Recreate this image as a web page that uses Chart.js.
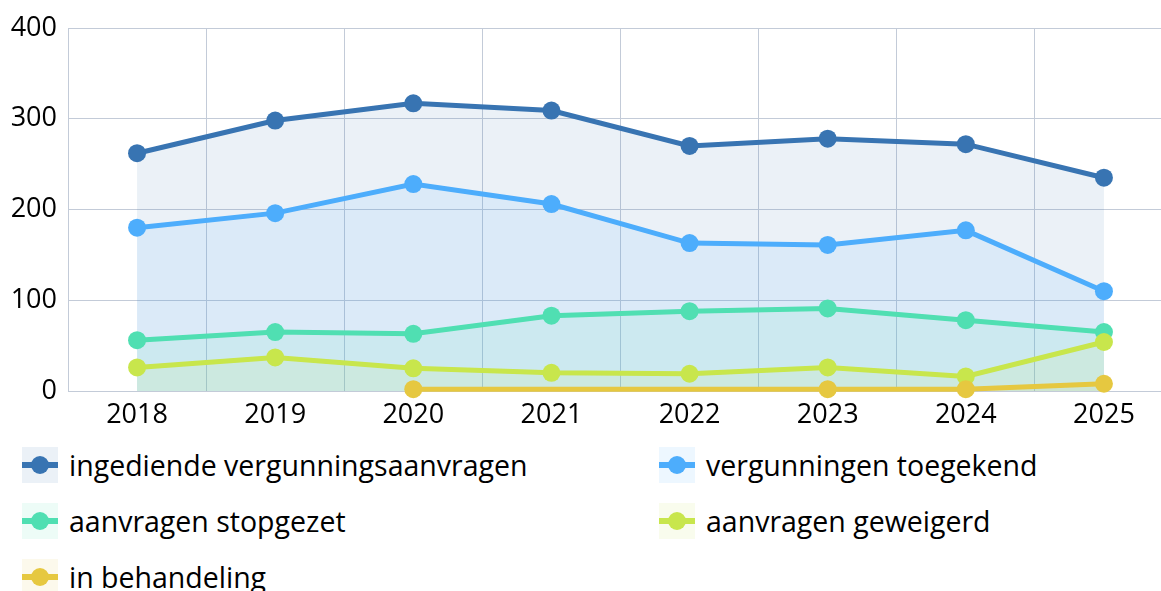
<!DOCTYPE html>
<html>
<head>
<meta charset="utf-8">
<script src="https://cdn.jsdelivr.net/npm/chart.js@4/dist/chart.umd.min.js"></script>
<style>
  html, body { margin: 0; padding: 0; background: #fff; overflow: hidden; width: 1161px; height: 591px; }
  #wrap { position: absolute; left: 0; top: 0; width: 1182px; height: 440px; }
  #legend { position: absolute; left: 0; top: 447px; width: 1161px; font-family: "Open Sans", sans-serif; font-size: 28.5px; color: #000; }
  .item { position: absolute; height: 36px; display: flex; align-items: center; white-space: nowrap; }
  .mk { position: relative; width: 36px; height: 36px; margin-right: 11px; flex: none; }
  .mk .ln { position: absolute; left: 0; right: 0; top: 15px; height: 6px; }
  .mk .dot { position: absolute; left: 9px; top: 9px; width: 18px; height: 18px; border-radius: 50%; }
</style>
</head>
<body>
<div id="wrap"><canvas id="c" width="1182" height="440"></canvas></div>
<div id="legend"></div>
<script>
const years = ["2018", "2019", "2020", "2021", "2022", "2023", "2024", "2025"];
const seriesNames = ["ingediende vergunningsaanvragen", "vergunningen toegekend", "aanvragen stopgezet", "aanvragen geweigerd", "in behandeling"];
const ingediend = [262, 298, 317, 309, 270, 278, 272, 235];
const toegekend = [180, 196, 228, 206, 163, 161, 177, 110];
const stopgezet = [56, 65, 63, 83, 88, 91, 78, 65];
const geweigerd = [26, 37, 25, 20, 19, 26, 16, 54];
const inBehandeling = [null, null, 2, null, null, 2, 2, 8];
const yTicks = [0, 100, 200, 300, 400];

const colors = ["#3874b2", "#4dadfc", "#50dfb2", "#c8e64c", "#e6c840"];
const values = [ingediend, toegekend, stopgezet, geweigerd, inBehandeling];

function rgba(hex, a) {
  const n = parseInt(hex.slice(1), 16);
  return `rgba(${(n >> 16) & 255},${(n >> 8) & 255},${n & 255},${a})`;
}

const datasets = seriesNames.map((name, i) => ({
  label: name,
  data: values[i],
  borderColor: colors[i],
  backgroundColor: rgba(colors[i], 0.1),
  pointBackgroundColor: colors[i],
  pointBorderWidth: 0,
  pointRadius: 9,
  pointHoverRadius: 9,
  borderWidth: 5,
  fill: 'origin',
  spanGaps: true,
  tension: 0,
  clip: false,
  order: seriesNames.length - i
}));

const gridColor = "#c3cbd8";
const tickFont = { family: "Open Sans", size: 27 };
const chart = new Chart(document.getElementById('c'), {
  type: 'line',
  data: { labels: years, datasets },
  options: {
    responsive: false,
    animation: false,
    events: [],
    layout: { padding: { top: 28, right: 2, bottom: 0, left: 0 } },
    plugins: { legend: { display: false }, tooltip: { enabled: false } },
    scales: {
      x: {
        offset: true,
        grid: { offset: true, color: gridColor, drawTicks: false, lineWidth: 1 },
        border: { color: gridColor, width: 1 },
        ticks: { color: "#000", font: tickFont, padding: 8, maxRotation: 0 },
        afterFit: s => { s.height = 49; }
      },
      y: {
        min: 0, max: 400,
        afterBuildTicks: s => { s.ticks = yTicks.map(v => ({ value: v })); },
        grid: { color: gridColor, drawTicks: false, lineWidth: 1 },
        border: { color: gridColor, width: 1 },
        ticks: { color: "#000", font: tickFont, padding: 11 },
        afterFit: s => { s.width = 68; }
      }
    }
  }
});

// HTML legend built from the chart's datasets
const legend = document.getElementById('legend');
const pos = [[22, 0], [659, 0], [22, 56], [659, 56], [22, 112]];
chart.data.datasets.forEach((ds, i) => {
  const it = document.createElement('div');
  it.className = 'item';
  it.style.left = pos[i][0] + 'px';
  it.style.top = pos[i][1] + 'px';
  const mk = document.createElement('div');
  mk.className = 'mk';
  mk.style.background = ds.backgroundColor;
  const ln = document.createElement('div'); ln.className = 'ln'; ln.style.background = ds.borderColor;
  const dot = document.createElement('div'); dot.className = 'dot'; dot.style.background = ds.borderColor;
  mk.appendChild(ln); mk.appendChild(dot);
  const tx = document.createElement('span'); tx.textContent = ds.label;
  it.appendChild(mk); it.appendChild(tx);
  legend.appendChild(it);
});
</script>
</body>
</html>
